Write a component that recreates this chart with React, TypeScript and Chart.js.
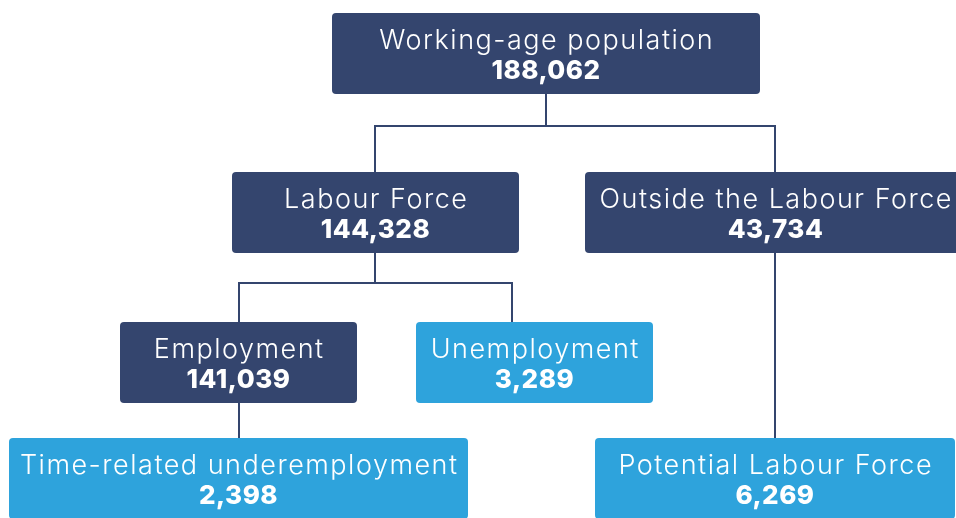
import React, { useEffect, useRef } from "react";
import { Chart, registerables } from "chart.js";
Chart.register(...registerables);

// ---- data ----
const nodeLabels = [
  "Working-age population",
  "Labour Force",
  "Outside the Labour Force",
  "Employment",
  "Unemployment",
  "Time-related underemployment",
  "Potential Labour Force",
];
const nodeValues = [188062, 144328, 43734, 141039, 3289, 2398, 6269];
const nodeParents = [-1, 0, 0, 1, 1, 3, 2];
const nodeKinds = ["group", "group", "group", "group", "leaf", "leaf", "leaf"];

// ---- layout (chart units, x: 0..956, y: 0..518 top-down) ----
const boxX0 = [332, 232, 585, 120, 416, 9, 595];
const boxX1 = [760, 519, 966, 357, 653, 468, 955];
const boxY0 = [13, 172, 172, 322, 322, 438, 438];
const boxH = 81;
const connX = [546, 375, 775, 239, 512, 239, 775];
const junctionY = [126, 126, 126, 283, 283, 420, 420];

const NAVY = "#34456e";
const BLUE = "#2ea3dc";

function fmt(n: number) {
  return n.toLocaleString("en-US");
}

export default function App() {
  const ref = useRef<HTMLCanvasElement | null>(null);
  useEffect(() => {
    if (!ref.current) return;
    const datasets: any[] = [];
    for (let i = 0; i < nodeLabels.length; i++) {
      const p = nodeParents[i];
      if (p < 0) continue;
      const pBottom = boxY0[p] + boxH;
      const cTop = boxY0[i];
      const jy = p === 3 || p === 2 ? pBottom : junctionY[i];
      datasets.push({
        type: "line",
        data: [
          { x: connX[p], y: pBottom },
          { x: connX[p], y: jy },
          { x: connX[i], y: jy },
          { x: connX[i], y: cTop },
        ],
        borderColor: NAVY,
        borderWidth: 2,
        pointRadius: 0,
        fill: false,
        tension: 0,
      });
    }

    const boxPlugin = {
      id: "boxes",
      afterDatasetsDraw(chart: any) {
        const ctx = chart.ctx;
        const xs = chart.scales.x;
        const ys = chart.scales.y;
        ctx.save();
        for (let i = 0; i < nodeLabels.length; i++) {
          const x0 = xs.getPixelForValue(boxX0[i]);
          const x1 = xs.getPixelForValue(boxX1[i]);
          const y0 = ys.getPixelForValue(boxY0[i]);
          const y1 = ys.getPixelForValue(boxY0[i] + boxH);
          ctx.fillStyle = nodeKinds[i] === "group" ? NAVY : BLUE;
          ctx.beginPath();
          ctx.roundRect(x0, y0, x1 - x0, y1 - y0, 4);
          ctx.fill();
          const cx = (x0 + x1) / 2;
          ctx.fillStyle = "#ffffff";
          ctx.textAlign = "center";
          ctx.textBaseline = "alphabetic";
          ctx.font = "300 27px Inter, 'Open Sans', sans-serif";
          (ctx as any).letterSpacing = "1.5px";
          ctx.fillText(nodeLabels[i], cx + 0.75, y0 + 36);
          ctx.font = "800 26px Inter, 'Open Sans', sans-serif";
          (ctx as any).letterSpacing = "0.5px";
          ctx.fillText(fmt(nodeValues[i]), cx, y0 + 66);
        }
        ctx.restore();
      },
    };

    const chart = new Chart(ref.current, {
      type: "scatter",
      data: { datasets },
      options: {
        animation: false,
        responsive: false,
        maintainAspectRatio: false,
        layout: { padding: 0 },
        plugins: { legend: { display: false }, tooltip: { enabled: false } },
        scales: {
          x: { type: "linear", min: 0, max: 956, display: false },
          y: { type: "linear", min: 0, max: 518, reverse: true, display: false },
        },
      },
      plugins: [boxPlugin],
    });
    return () => chart.destroy();
  }, []);

  return (
    <div style={{ position: "fixed", left: 0, top: 0, width: 956, height: 518, background: "#fff" }}>
      <canvas ref={ref} width={956} height={518} style={{ width: 956, height: 518, display: "block" }} />
    </div>
  );
}
